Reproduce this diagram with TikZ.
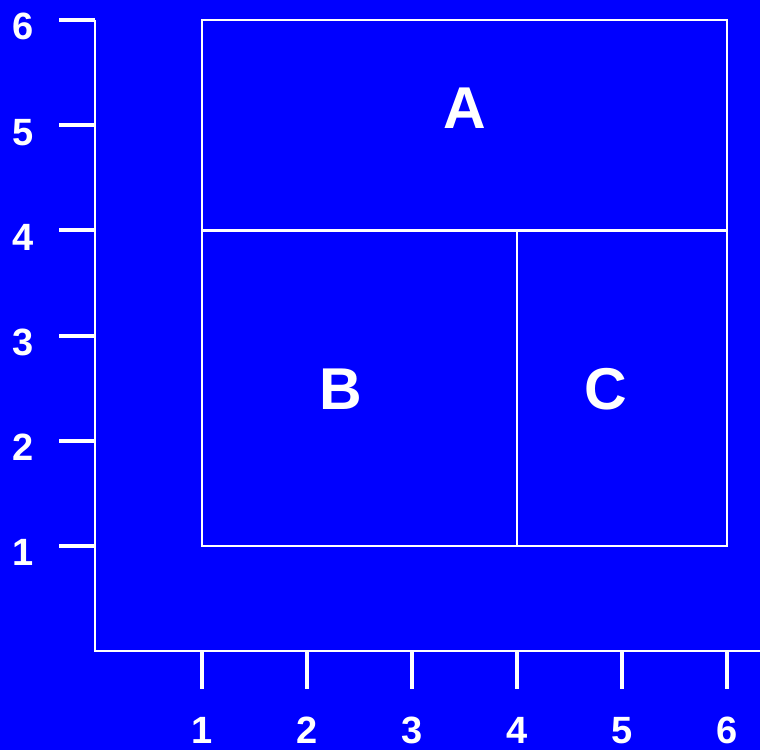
\documentclass[tikz,border=0pt]{standalone}
\usepackage{fontspec}
\setmainfont{Liberation Sans}
\definecolor{plotblue}{RGB}{0,0,255}
\begin{document}
\begin{tikzpicture}[x=105pt,y=105.2pt,
  axisline/.style={white,line width=2.6pt,line join=miter},
  tickline/.style={white,line width=4pt},
  boxline/.style={white,line width=2.8pt},
  ticklabel/.style={text=white,font=\fontsize{38}{38}\selectfont\bfseries,
    anchor=base,inner sep=0pt},
  arealabel/.style={text=white,font=\fontsize{59}{59}\selectfont\bfseries,
    anchor=base,inner sep=0pt}]
  % Blue page and fixed margins.
  \fill[plotblue] (-0.924,-0.939) rectangle (6.314,6.190);
  \useasboundingbox (-0.924,-0.939) rectangle (6.314,6.190);
  % L-shaped axes with ticks and numbers.
  \coordinate (ytop) at (-0.02,6);
  \coordinate (origin) at (-0.02,0);
  \coordinate (xend) at (6.314,0);
  \draw[axisline] (ytop) -- (origin) -- (xend);
  \foreach \k in {1,...,6} {
    \draw[tickline] (-0.362,\k) -- (-0.02,\k);
    \node[ticklabel] (ylab\k) at (-0.70,\k-0.19) {\k};
    \draw[tickline] (\k,0) -- (\k,-0.359);
    \node[ticklabel] (xlab\k) at (\k,-0.873) {\k};
  }
  % Outer box split into the three areas.
  \coordinate (sw) at (1,1);
  \coordinate (ne) at (6,6);
  \coordinate (midw) at (1,4);
  \coordinate (mide) at (6,4);
  \coordinate (cuttop) at (4,4);
  \coordinate (cutbot) at (4,1);
  \draw[boxline] (sw) rectangle (ne);
  \draw[boxline] (midw) -- (mide);
  \draw[boxline] (cuttop) -- (cutbot);
  \node[arealabel] (areaA) at (3.505,4.964) {A};
  \node[arealabel] (areaB) at (2.324,2.293) {B};
  \node[arealabel] (areaC) at (4.843,2.293) {C};
\end{tikzpicture}
\end{document}
